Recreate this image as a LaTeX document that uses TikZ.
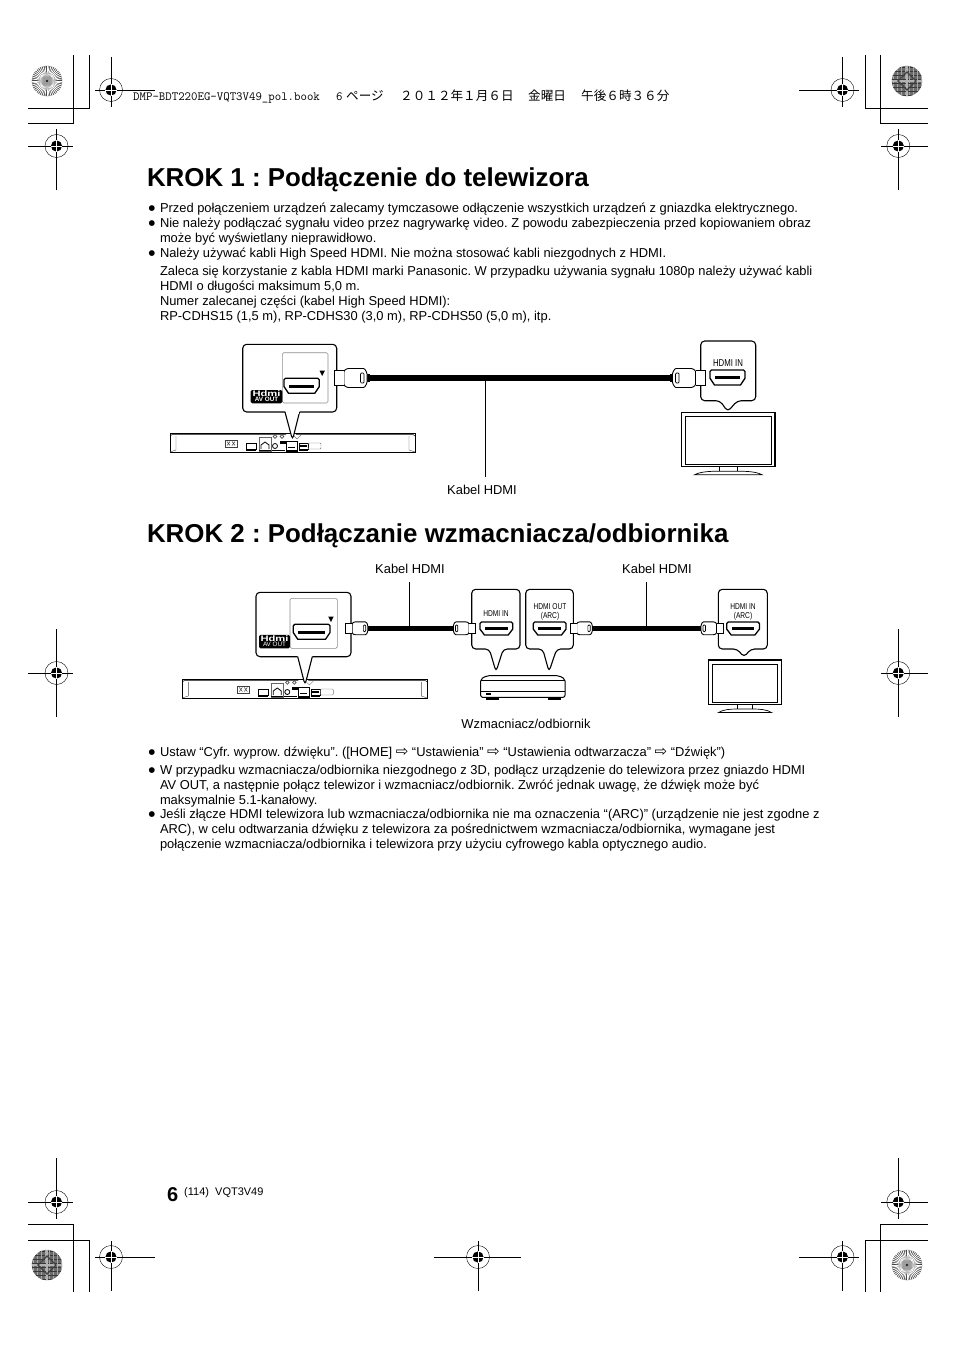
\documentclass[tikz,border=0pt]{standalone}
\usepackage{fontspec}
\usetikzlibrary{calc}
\setmainfont{Liberation Sans}
\newfontfamily\symbolfont{DejaVu Sans}
\newfontfamily\narrowfont[FakeStretch=0.78]{Liberation Sans}
\newfontfamily\logofont[FakeStretch=1.4]{Liberation Sans}
\newfontfamily\cjkfont{Noto Sans CJK JP}
\newcommand{\menuarrow}{{\fontsize{15}{15}\selectfont\symbolfont ⇨}}

\tikzset{
  bodytext/.style={anchor=base west,inner sep=0pt,outer sep=0pt,font=\fontsize{12.9}{15}\selectfont\frenchspacing},
  bulletmark/.style={anchor=base,inner sep=0pt,outer sep=0pt,yshift=2pt,font=\fontsize{7.5}{9}\selectfont\symbolfont},
  steptitle/.style={anchor=base west,inner sep=0pt,outer sep=0pt,font=\fontsize{25.9}{30}\selectfont\bfseries\frenchspacing},
  porttext/.style={inner sep=0pt,outer sep=0pt,align=center,font=\fontsize{8.5}{8.6}\selectfont\narrowfont},
  booktext/.style={anchor=base west,inner sep=0pt,font=\fontsize{12.6}{14}\selectfont\cjkfont},
  cable/.style={line width=5.5pt,black},
  leader/.style={line width=0.8pt,black},
  callout/.style={line width=1.1pt,fill=white,rounded corners=4pt},
}

% one printer's mark
\newcommand{\regmark}[7]{%
  \coordinate (#1) at (#2,#3);
  \draw[line width=0.8pt] (#4,#3) -- (#5,#3) (#2,#6) -- (#2,#7);
  \draw[line width=0.4pt] (#1) circle (11.5);
  \fill (#1) circle (5.6);
  \draw[white,line width=0.7pt] (#2-5.6,#3) -- (#2+5.6,#3) (#2,#3-5.6) -- (#2,#3+5.6);
}
% disc of spokes
\newcommand{\spokedisc}[2]{%
  \fill[black!72] (#1,#2) circle (15.2);
  \foreach \ang in {0,7.5,...,352.5}
    \draw[white,line width=0.8pt] ($(#1,#2)+(\ang:5)$) -- ($(#1,#2)+(\ang:15.4)$);
  \fill[black!38] (#1,#2) circle (6);
  \foreach \ang in {0,90,180,270}
    \fill[black!25] ($(#1,#2)+(\ang-25:5)$) -- ($(#1,#2)+(\ang:9.5)$) -- ($(#1,#2)+(\ang+25:5)$) -- cycle;
  \fill[black!85] (#1,#2) circle (1.3);
}
% dark disc with a woven look
\newcommand{\weavedisc}[2]{%
  \fill[black!58] (#1,#2) circle (15.2);
  \begin{scope}
    \clip (#1,#2) circle (15.2);
    \foreach \off in {-14,-10,...,14} {
      \draw[black!35,line width=0.8pt] (#1+\off,#2-16) -- (#1+\off,#2+16);
      \draw[black!78,line width=0.8pt] (#1-16,#2+\off) -- (#1+16,#2+\off);
    }
    \draw[black!30,line width=1.4pt] (#1-15,#2) -- (#1+15,#2) (#1,#2-15) -- (#1,#2+15);
    \draw[black!75,line width=1.2pt] (#1,#2-9) -- (#1+9,#2) -- (#1,#2+9) -- (#1-9,#2) -- cycle;
  \end{scope}
}
% port, inside a callout
\newcommand{\hdmiport}[5]{%
  \begin{scope}[shift={(#2,#3)}]
    \coordinate (#1) at (#4/2,#5/2);
    \draw[line width=1.3pt,fill=white,line join=round] (1.5,0) -- (#4-1.5,0) -- (#4,1.5) -- (#4,#5*0.55) -- (#4-4.5,#5) -- (4.5,#5) -- (0,#5*0.55) -- (0,1.5) -- cycle;
    \fill (5,#5*0.42) rectangle (#4-5,#5*0.62);
  \end{scope}
}
% plug and its sleeve; #4 is 1 when the tip points right
\newcommand{\hdmiplug}[5]{%
  \begin{scope}[shift={(#2,#3)},xscale=#4*#5,yscale=#5]
    \coordinate (#1) at (0,0);
    \fill (0,-4) rectangle (3,4);
    \draw[line width=0.9pt,fill=white,rounded corners=1pt] (2.5,-5) -- (5,-9.5) -- (22,-9.5) -- (25.5,-7.5) -- (25.5,7.5) -- (22,9.5) -- (5,9.5) -- (2.5,5) -- cycle;
    \draw[line width=0.7pt,rounded corners=1pt] (5.5,-5) rectangle (9,5);
    \draw[line width=0.9pt,fill=white] (25.5,-7.5) -- (35,-7.5) -- (35,7.5) -- (25.5,7.5);
  \end{scope}
}
% player seen from behind, #1/#2 is the top left corner
\newcommand{\playerback}[3]{%
  \begin{scope}[shift={(#1,#2)}]
    \coordinate (#3) at (122,10);
    \draw[line width=0.9pt] (0,0) -- (245,0) -- (245,19) -- (0,19) -- cycle;
    \draw[line width=0.5pt] (0,3) -- (2,1.5) -- (116,1.5) (126,1.5) -- (243,1.5) -- (245,3);
    \draw[line width=0.4pt,black!70] (6,3) -- (6,17) -- (0,19) (239,3) -- (239,17) -- (245,19);
    \draw[line width=0.6pt,black!75] (55,7) rectangle (67,14);
    \draw[line width=0.5pt,black!75] (57,8.5) -- (60,12.5) (60,8.5) -- (57,12.5) (62,8.5) -- (65,12.5) (65,8.5) -- (62,12.5);
    \draw[line width=0.6pt] (76,10) rectangle (86,16);
    \fill (76,16) rectangle (86,18);
    \draw[line width=0.5pt,black!60] (89,4) rectangle (101,18);
    \draw[line width=0.8pt] (91,16) -- (91,12) -- (95,9) -- (99,12) -- (99,16);
    \fill (89,16.5) rectangle (101,18);
    \draw[line width=0.7pt,black!70] (105,3.5) circle (1.8) (112,3.5) circle (1.8);
    \draw[line width=0.8pt] (105,13) circle (2.5);
    \fill (110,8) rectangle (116,11);
    \fill (102,16.5) rectangle (115,18);
    \draw[line width=0.5pt,fill=white] (116,8) rectangle (127,18);
    \fill (118,14) rectangle (125,15);
    \fill (116,17) rectangle (127,18);
    \draw[line width=0.6pt] (129,10) rectangle (138,16);
    \fill (130,12) rectangle (137,13.5);
    \fill (129,16) rectangle (138,18);
    \draw[line width=0.4pt,black!55,rounded corners=1pt] (138,10) rectangle (151,16);
    \draw[line width=0.4pt,black!55] (124,3) -- (127,6) -- (131,2);
  \end{scope}
}
% tv, #1/#2 top left, #3/#4 width and height
\newcommand{\tvset}[4]{%
  \begin{scope}[shift={(#1,#2)}]
    \draw[line width=0.7pt] (#3*0.40,#4) -- (#3*0.40,#4+4.5) (#3*0.60,#4) -- (#3*0.60,#4+4.5);
    \draw[line width=0.7pt,fill=white] (#3*0.14,#4+8) .. controls (#3*0.2,#4+5) and (#3*0.3,#4+4.5) .. (#3*0.40,#4+4.5) -- (#3*0.60,#4+4.5) .. controls (#3*0.7,#4+4.5) and (#3*0.8,#4+5) .. (#3*0.86,#4+8) -- cycle;
    \draw[line width=1.1pt,fill=white] (0,0) rectangle (#3,#4);
    \draw[line width=0.8pt] (4,4) rectangle (#3-4,#4-2.5);
  \end{scope}
}

\begin{document}
\begin{tikzpicture}[x=1pt,y=-1pt]
\useasboundingbox (0,0) rectangle (954,1348);

% corner lines
\draw[line width=0.8pt] (28,108) -- (89,108) -- (89,55);
\draw[line width=0.8pt] (28,123) -- (73.5,123) -- (73.5,55);
\draw[line width=0.8pt] (927.5,108) -- (865.5,108) -- (865.5,55);
\draw[line width=0.8pt] (927.5,123) -- (880.5,123) -- (880.5,55);
\draw[line width=0.8pt] (28,1240) -- (89,1240) -- (89,1292);
\draw[line width=0.8pt] (28,1224.5) -- (73.5,1224.5) -- (73.5,1292);
\draw[line width=0.8pt] (927.5,1240) -- (865.5,1240) -- (865.5,1292);
\draw[line width=0.8pt] (927.5,1224.5) -- (880.5,1224.5) -- (880.5,1292);

\spokedisc{47}{81}
\weavedisc{907}{81}
\weavedisc{47}{1265}
\spokedisc{907}{1265}

\regmark{regA}{111}{90}{95}{155}{57}{107}
\regmark{regB}{56.5}{146}{28}{73}{129}{190}
\regmark{regD}{842.5}{90}{799}{859}{57}{107}
\regmark{regE}{898.3}{146}{881}{927.5}{129}{190}
\regmark{regF}{56.5}{673}{28}{73}{629}{717}
\regmark{regG}{898.3}{673}{881}{927.5}{629}{717}
\regmark{regH}{56.5}{1202}{28}{73}{1158}{1219}
\regmark{regI}{111}{1257}{95}{155}{1241}{1291}
\regmark{regJ}{478}{1257}{434}{521}{1241}{1291}
\regmark{regK}{842.5}{1257}{799}{859}{1241}{1291}
\regmark{regL}{898.3}{1202}{881}{927.5}{1158}{1219}

% book line
\node[anchor=base west,inner sep=0pt] (bookname) at (133,101) {\fontsize{12.5}{14}\ttfamily DMP-BDT220EG-VQT3V49\_pol.book};
\node[anchor=base west,inner sep=0pt] (bookpage) at (336,101) {\fontsize{12.5}{14}\ttfamily 6};
\node[booktext] (bookdate) at (346,101) {ページ};
\node[booktext] (bookday) at (400,101) {２０１２年１月６日};
\node[booktext] (bookweek) at (528,101) {金曜日};
\node[booktext] (booktime) at (581,101) {午後６時３６分};

% step 1
\node[steptitle] (titleA) at (147,186.5) {KROK 1 : Podłączenie do telewizora};
\node[bulletmark] (dotA) at (152,212.5) {●};
\node[bodytext] (lineA) at (160,212.5) {Przed połączeniem urządzeń zalecamy tymczasowe odłączenie wszystkich urządzeń z gniazdka elektrycznego.};
\node[bulletmark] (dotB) at (152,227.5) {●};
\node[bodytext] (lineB) at (160,227.5) {Nie należy podłączać sygnału video przez nagrywarkę video. Z powodu zabezpieczenia przed kopiowaniem obraz};
\node[bodytext] (lineC) at (160,242.5) {może być wyświetlany nieprawidłowo.};
\node[bulletmark] (dotC) at (152,257.5) {●};
\node[bodytext] (lineD) at (160,257.5) {Należy używać kabli High Speed HDMI. Nie można stosować kabli niezgodnych z HDMI.};
\node[bodytext] (lineE) at (160,275.5) {Zaleca się korzystanie z kabla HDMI marki Panasonic. W przypadku używania sygnału 1080p należy używać kabli};
\node[bodytext] (lineF) at (160,290.5) {HDMI o długości maksimum 5,0 m.};
\node[bodytext] (lineG) at (160,305.5) {Numer zalecanej części (kabel High Speed HDMI):};
\node[bodytext] (lineH) at (160,320.5) {RP-CDHS15 (1,5 m), RP-CDHS30 (3,0 m), RP-CDHS50 (5,0 m), itp.};

% first picture
\playerback{170}{433}{playerA}
\draw[callout] (285,412) -- (292.5,440) -- (299.5,412);
\draw[callout,sharp corners,draw=none] (286,408) rectangle (298.5,413.5);
\draw[line width=1.1pt,rounded corners=4pt] (285,412) -- (242.7,412) -- (242.7,344.3) -- (336.7,344.3) -- (336.7,412) -- (299.5,412);
\draw[black!45,line width=0.6pt,rounded corners=1.5pt] (282.3,403) -- (282.3,352.7) -- (328,352.7) -- (328,403) -- cycle;
\hdmiport{portA}{284}{378.3}{35.3}{15}
\fill (319.5,370.5) -- (325,370.5) -- (322.2,376) -- cycle;
\node[fill=black,rounded corners=1.5pt,minimum width=31.6pt,minimum height=13.4pt,inner sep=0pt] (logoA) at (266.5,396.7) {};
\node[inner sep=0pt,white,font=\fontsize{8}{8}\selectfont\logofont\bfseries] (logoAtop) at (266.5,393.6) {Hdmi};
\node[inner sep=0pt,white,font=\fontsize{6.3}{6.3}\selectfont\bfseries] (logoAbot) at (266.5,399.8) {AV OUT};

\draw[callout] (700.7,400.7) -- (700.7,341) -- (755.7,341) -- (755.7,400.7) -- (737.3,400.7) -- (727.7,411.7) -- (720,400.7) -- cycle;
\node[porttext,font=\fontsize{10}{10}\selectfont\narrowfont] (textA) at (728,363) {HDMI IN};
\hdmiport{portB}{710}{370}{35}{15}
\tvset{681.7}{412.3}{93.3}{54.4}

\hdmiplug{plugA}{369.5}{378}{-1}{1}
\hdmiplug{plugB}{670}{378}{1}{1}
\draw[cable] (plugA) -- (plugB);
\coordinate (tapA) at (485,378);
\node[bodytext,anchor=base] (labelA) at (482,494) {Kabel HDMI};
\coordinate (tapAend) at (485,477);
\draw[leader] (tapA) -- (tapAend);

% step 2
\node[steptitle] (titleB) at (147,542.5) {KROK 2 : Podłączanie wzmacniacza/odbiornika};

\playerback{182.3}{679}{playerB}
\draw[callout] (297.7,656.7) -- (305,685) -- (312.3,656.7);
\draw[line width=1.1pt,rounded corners=4pt] (297.7,656.7) -- (256,656.7) -- (256,592.3) -- (351,592.3) -- (351,656.7) -- (312.3,656.7);
\draw[black!45,line width=0.6pt,rounded corners=1.5pt] (290,648.3) -- (290,598.3) -- (337.3,598.3) -- (337.3,648.3) -- cycle;
\hdmiport{portC}{293.3}{624.3}{36.7}{15}
\fill (328.2,616.5) -- (333.7,616.5) -- (331,622) -- cycle;
\node[fill=black,rounded corners=1.5pt,minimum width=31pt,minimum height=13.4pt,inner sep=0pt] (logoC) at (274.5,641.6) {};
\node[inner sep=0pt,white,font=\fontsize{8}{8}\selectfont\logofont\bfseries] (logoCtop) at (274.5,638.5) {Hdmi};
\node[inner sep=0pt,white,font=\fontsize{6.3}{6.3}\selectfont] (logoCbot) at (274.5,644.8) {AV OUT};

% receiver
\draw[line width=1pt,fill=black] (486,697) rectangle (498,699.5) (548,697) rectangle (560,699.5);
\draw[line width=1pt,fill=white,rounded corners=2pt] (480.7,697.3) -- (480.7,679) -- (487,675.7) -- (559,675.7) -- (565,679) -- (565,697.3) -- cycle;
\draw[line width=1pt] (481,680) -- (565,680);
\draw[line width=0.6pt] (481,691.7) -- (565,691.7);
\fill (486,692.5) rectangle (491,695);

\draw[callout] (489.3,649) -- (471.7,649) -- (471.7,589.3) -- (520,589.3) -- (520,649) -- (503.3,649) -- (496,671.7) -- cycle;
\draw[callout] (542.7,649) -- (525.7,649) -- (525.7,589.3) -- (573.3,589.3) -- (573.3,649) -- (556.7,649) -- (549,671.7) -- cycle;
\node[porttext] (textB) at (496,613.5) {HDMI IN};
\node[porttext] (textC) at (550,612) {HDMI OUT\\(ARC)};
\hdmiport{portD}{480}{622}{32.7}{13}
\hdmiport{portE}{533.3}{622}{32.7}{13}

\draw[callout] (737.3,649) -- (718.3,649) -- (718.3,589.3) -- (767.3,589.3) -- (767.3,649) -- (750.7,649) -- (744,657.3) -- cycle;
\node[porttext] (textD) at (743,612) {HDMI IN\\(ARC)};
\hdmiport{portF}{726.7}{622}{32.7}{13}
\tvset{708.3}{660}{73.4}{44.5}

\hdmiplug{plugC}{369.5}{628.3}{-1}{0.68}
\hdmiplug{plugD}{451.7}{628.3}{1}{0.68}
\hdmiplug{plugE}{594}{628.3}{-1}{0.68}
\hdmiplug{plugF}{699.3}{628.3}{1}{0.68}
\draw[cable,line width=5pt] (plugC) -- (plugD);
\draw[cable,line width=5pt] (plugE) -- (plugF);

\node[bodytext,anchor=base] (labelB) at (410,573.5) {Kabel HDMI};
\node[bodytext,anchor=base] (labelC) at (657,573.5) {Kabel HDMI};
\coordinate (tapB) at (409,628.3);
\coordinate (tapBend) at (409,582);
\coordinate (tapC) at (646,628.3);
\coordinate (tapCend) at (646,582);
\draw[leader] (tapB) -- (tapBend);
\draw[leader] (tapC) -- (tapCend);
\node[bodytext,anchor=base] (labelD) at (526,728.5) {Wzmacniacz/odbiornik};

% notes
\node[bulletmark] (dotD) at (152,756.5) {●};
\node[bodytext] (noteA) at (160,756.5) {Ustaw “Cyfr. wyprow. dźwięku”. ([HOME] \menuarrow{} “Ustawienia” \menuarrow{} “Ustawienia odtwarzacza” \menuarrow{} “Dźwięk”)};
\node[bulletmark] (dotE) at (152,774.5) {●};
\node[bodytext] (noteB) at (160,774.5) {W przypadku wzmacniacza/odbiornika niezgodnego z 3D, podłącz urządzenie do telewizora przez gniazdo HDMI};
\node[bodytext] (noteC) at (160,789.5) {AV OUT, a następnie połącz telewizor i wzmacniacz/odbiornik. Zwróć jednak uwagę, że dźwięk może być};
\node[bodytext] (noteD) at (160,804.5) {maksymalnie 5.1-kanałowy.};
\node[bulletmark] (dotF) at (152,818.5) {●};
\node[bodytext] (noteE) at (160,818.5) {Jeśli złącze HDMI telewizora lub wzmacniacza/odbiornika nie ma oznaczenia “(ARC)” (urządzenie nie jest zgodne z};
\node[bodytext] (noteF) at (160,833.5) {ARC), w celu odtwarzania dźwięku z telewizora za pośrednictwem wzmacniacza/odbiornika, wymagane jest};
\node[bodytext] (noteG) at (160,848.5) {połączenie wzmacniacza/odbiornika i telewizora przy użyciu cyfrowego kabla optycznego audio.};

% page number
\node[anchor=base west,inner sep=0pt,font=\fontsize{20}{20}\selectfont\bfseries] (pagenum) at (167,1201) {6};
\node[anchor=base west,inner sep=0pt,font=\fontsize{11}{12}\selectfont] (pagecode) at (184,1195) {(114)\ \ VQT3V49};
\end{tikzpicture}
\end{document}
